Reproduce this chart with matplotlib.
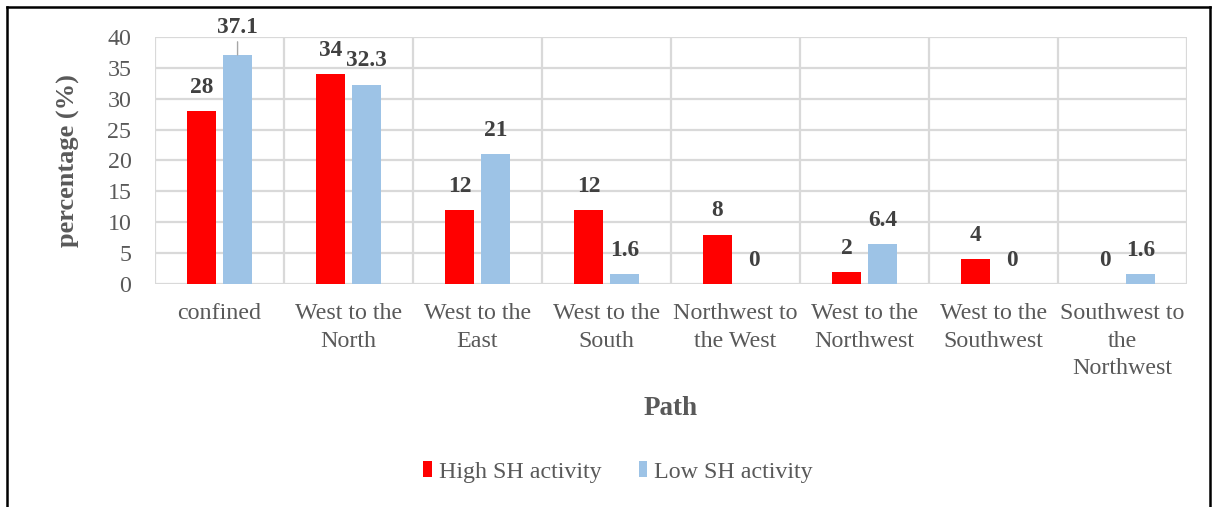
import matplotlib
matplotlib.use("Agg")
import matplotlib.pyplot as plt
import numpy as np
from matplotlib.lines import Line2D

plt.rcParams['font.family'] = ['Liberation Serif', 'DejaVu Serif']

categories = ["confined", "West to the\nNorth", "West to the\nEast", "West to the\nSouth",
              "Northwest to\nthe West", "West to the\nNorthwest", "West to the\nSouthwest",
              "Southwest to\nthe\nNorthwest"]
high_sh = [28, 34, 12, 12, 8, 2, 4, 0]
low_sh = [37.1, 32.3, 21, 1.6, 0, 6.4, 0, 1.6]
high_labels = ["28", "34", "12", "12", "8", "2", "4", "0"]
low_labels = ["37.1", "32.3", "21", "1.6", "0", "6.4", "0", "1.6"]

RED = "#ff0000"
BLUE = "#9dc3e6"
GRID = "#d9d9d9"
TXT = "#595959"
LBL = "#404040"

TICK_FS = 17.3
LBL_FS = 16.8

fig = plt.figure(figsize=(12.13, 5.07), dpi=100)
ax = fig.add_axes([155 / 1213, 1 - 284 / 507, 1032 / 1213, 247 / 507])

x = np.arange(len(categories))
w = 0.225
off = 0.14
b1 = ax.bar(x - off, high_sh, w, color=RED, label="High SH activity", zorder=3)
b2 = ax.bar(x + off, low_sh, w, color=BLUE, label="Low SH activity", zorder=3)

ax.set_xlim(-0.5, len(categories) - 0.5)
ax.set_ylim(0, 40)
ax.set_yticks(np.arange(0, 41, 5))
ax.set_xticks(x)
ax.set_xticklabels(categories, fontsize=TICK_FS, color=TXT, linespacing=1.4, va='top')
ax.tick_params(axis='y', labelsize=TICK_FS, colors=TXT, length=0, pad=17)
ax.tick_params(axis='x', length=0, pad=14)

# gridlines: horizontal at ticks, vertical between categories
ax.yaxis.grid(True, color=GRID, linewidth=1.6, zorder=0)
for xb in np.arange(-0.5, len(categories), 1.0):
    ax.axvline(xb, color=GRID, linewidth=1.6, zorder=0)
for s in ax.spines.values():
    s.set_visible(False)

ax.set_ylabel("percentage (%)", fontsize=19, fontweight='bold', color=TXT, labelpad=20)
ax.set_xlabel("Path", fontsize=19.5, fontweight='bold', color=TXT, labelpad=12)


def put_label(xi, v, t, dy=17):
    ax.annotate(t, (xi, v), xytext=(0, dy), textcoords='offset points',
                ha='center', va='center', fontsize=LBL_FS, fontweight='bold',
                color=LBL, annotation_clip=False)


for xi, v, t in zip(x - off, high_sh, high_labels):
    put_label(xi, v, t)

# the tallest label sits above the plot area with a leader line
for xi, v, t in zip(x + off, low_sh, low_labels):
    if v > 36:
        ax.annotate(t, (xi, v), xytext=(0, 20), textcoords='offset points',
                    ha='center', va='center', fontsize=LBL_FS, fontweight='bold',
                    color=LBL, annotation_clip=False,
                    arrowprops=dict(arrowstyle='-', color='#a6a6a6', lw=1.0,
                                    shrinkA=1, shrinkB=0))
    else:
        put_label(xi, v, t)

leg = fig.legend(handles=[b1, b2], loc='center', bbox_to_anchor=(618 / 1213, 1 - 472 / 507),
                 ncol=2, frameon=False, fontsize=TICK_FS, handlelength=0.34, handleheight=0.6,
                 handletextpad=0.3, columnspacing=1.55)
for t in leg.get_texts():
    t.set_color(TXT)

# outer chart frame
frame_kw = dict(transform=fig.transFigure, color='black', lw=1.8)
fig.add_artist(Line2D([7 / 1213, 7 / 1213], [0, 1 - 7 / 507], **frame_kw))
fig.add_artist(Line2D([7 / 1213, 1210 / 1213], [1 - 7 / 507, 1 - 7 / 507], **frame_kw))
fig.add_artist(Line2D([1210 / 1213, 1210 / 1213], [0, 1 - 7 / 507], **frame_kw))

fig.savefig("out.png", dpi=100)
